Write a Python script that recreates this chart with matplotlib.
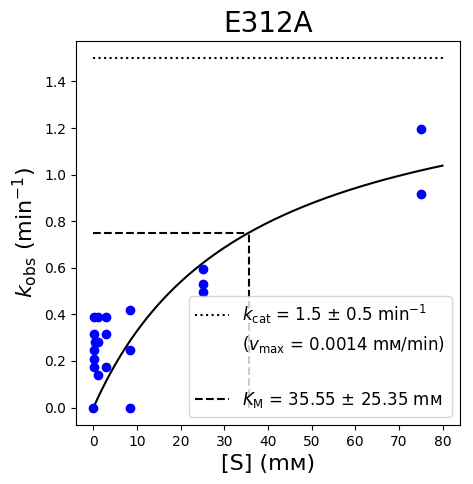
import numpy as np
import matplotlib
matplotlib.use("Agg")
import matplotlib.pyplot as plt
from matplotlib.lines import Line2D

title = "E312A"
substrate_mM = [0, 8.33, 0.1, 0.93, 2.78, 8.33, 0.1, 2.78, 0.31, 0.93, 0.03, 8.33,
                0.03, 0.1, 2.78, 0.93, 25, 25, 25, 75, 75]
k_obs = [0.0, 0.0, 0.39, 0.39, 0.39, 0.42, 0.315, 0.315, 0.28, 0.28, 0.245, 0.245,
         0.21, 0.175, 0.175, 0.14, 0.595, 0.53, 0.495, 1.195, 0.915]
kcat = 1.5
kcat_err = 0.5
vmax = 0.0014
KM = 35.55
KM_err = 25.35
S_max = 80
mM = "m\u1d0d"

fig = plt.figure(figsize=(4.73, 4.84), dpi=100)
ax = fig.add_axes([0.1607, 0.1219, 0.8118, 0.7941])

S_fit = np.linspace(0, S_max, 400)
ax.plot(S_fit, kcat * S_fit / (KM + S_fit), color="black", lw=1.5)
ax.plot(substrate_mM, k_obs, "o", color="blue")
ax.plot([0, S_max], [kcat, kcat], ":", color="black", lw=1.5)
ax.plot([0, KM], [kcat / 2, kcat / 2], "--", color="black", lw=1.5)
ax.plot([KM, KM], [0, kcat / 2], "--", color="black", lw=1.5)

ax.set_title(title, fontsize=20)
ax.set_xlabel("[S] (" + mM + ")", fontsize=16)
ax.set_ylabel(r"$k_\mathrm{obs}$ (min$^{-1}$)", fontsize=16)
ax.set_xticks(np.arange(0, 81, 10))
ax.set_yticks(np.arange(0, 1.41, 0.2))

handles = [Line2D([], [], ls=":", color="black", lw=1.5),
           Line2D([], [], ls="none"),
           Line2D([], [], ls="none"),
           Line2D([], [], ls="--", color="black", lw=1.5)]
labels = [r"$k_\mathrm{cat}$ = %s ± %s min$^{-1}$" % (kcat, kcat_err),
          r"($v_\mathrm{max}$ = %s " % vmax + mM + "/min)",
          "",
          r"$K_\mathrm{M}$ = %.2f ± %.2f " % (KM, KM_err) + mM]
ax.legend(handles, labels, loc="lower right", fontsize=12)

fig.savefig("out.png", dpi=100)
